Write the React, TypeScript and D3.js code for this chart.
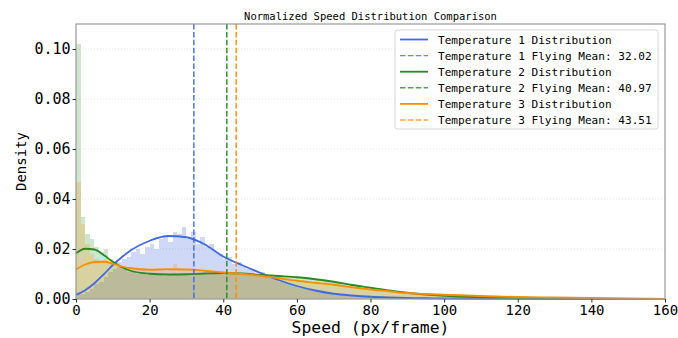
import * as d3 from 'd3';
import React, { useEffect, useRef } from 'react';

// histogram bins are 1.25 px/frame wide, starting at 0
const binWidth = 1.25;

const hist1 = [
  0.003, 0.002, 0.003, 0.004, 0.006, 0.007,
  0.009, 0.011, 0.012, 0.015, 0.016, 0.017,
  0.019, 0.020, 0.018, 0.021, 0.022, 0.020,
  0.024, 0.025, 0.023, 0.027, 0.026, 0.029,
  0.024, 0.027, 0.022, 0.025, 0.021, 0.022,
  0.019, 0.018, 0.016, 0.017, 0.014, 0.015,
  0.013, 0.012, 0.012, 0.010, 0.011, 0.009,
  0.0085, 0.008, 0.007, 0.0065, 0.006, 0.0055,
  0.005, 0.0045, 0.004, 0.0037, 0.0033, 0.003,
  0.0027, 0.0024, 0.0022, 0.002, 0.0018, 0.0016,
  0.0014, 0.0013, 0.0012, 0.0011, 0.001, 0.0009,
  0.0008, 0.0008, 0.0007, 0.0006, 0.0006, 0.0005,
  0.0005, 0.0004, 0.0004, 0.0004, 0.0003, 0.0003, 0.0003, 0.0002,
];

const hist2 = [
  0.102, 0.033, 0.026, 0.024, 0.021, 0.019,
  0.020, 0.016, 0.015, 0.013, 0.012, 0.011,
  0.011, 0.010, 0.0105, 0.0095, 0.010, 0.0098,
  0.0102, 0.0094, 0.0099, 0.0103, 0.0096, 0.010,
  0.0098, 0.0104, 0.0101, 0.0097, 0.0106, 0.0102,
  0.0108, 0.0103, 0.0099, 0.0107, 0.0101, 0.0104,
  0.0100, 0.0097, 0.0102, 0.0095, 0.0098, 0.0093,
  0.0094, 0.0090, 0.0092, 0.0087, 0.0089, 0.0085,
  0.0086, 0.0083, 0.0081, 0.0079, 0.0077, 0.0074,
  0.0072, 0.0070, 0.0066, 0.0063, 0.0059, 0.0056,
  0.0052, 0.0050, 0.0046, 0.0043, 0.0049, 0.0038,
  0.0035, 0.0032, 0.0029, 0.0027, 0.0024, 0.0022,
  0.0021, 0.0026, 0.0018, 0.0016, 0.0015, 0.0013, 0.0012, 0.0011,
  0.0010, 0.0009, 0.0009, 0.0008, 0.0008, 0.0007, 0.0007, 0.0006,
  0.0006, 0.0005, 0.0005, 0.0005, 0.0004, 0.0004, 0.0004, 0.0003,
];

const hist3 = [
  0.047, 0.030, 0.022, 0.018, 0.016, 0.015,
  0.016, 0.014, 0.014, 0.013, 0.013, 0.012,
  0.012, 0.0118, 0.0125, 0.0112, 0.0119, 0.0115,
  0.0121, 0.0113, 0.0117, 0.0142, 0.0116, 0.0119,
  0.0118, 0.0112, 0.0115, 0.0110, 0.0114, 0.0109,
  0.0111, 0.0106, 0.0108, 0.0103, 0.0105, 0.0100,
  0.0101, 0.0097, 0.0099, 0.0094, 0.0095, 0.0091,
  0.0088, 0.0085, 0.0083, 0.0079, 0.0077, 0.0074,
  0.0072, 0.0070, 0.0067, 0.0065, 0.0063, 0.0061,
  0.0075, 0.0057, 0.0055, 0.0052, 0.0050, 0.0048,
  0.0046, 0.0044, 0.0042, 0.0040, 0.0038, 0.0036,
  0.0034, 0.0032, 0.0031, 0.0029, 0.0027, 0.0026,
  0.0025, 0.0023, 0.0022, 0.0021, 0.0020, 0.0019, 0.0018, 0.0017,
  0.0016, 0.0015, 0.0015, 0.0014, 0.0013, 0.0013, 0.0012, 0.0012,
  0.0011, 0.0011, 0.0010, 0.0010, 0.0009, 0.0009, 0.0009, 0.0008,
];

// KDE curves sampled at these speeds
const kdeX = [0, 2.5, 5, 7.5, 10, 12.5, 15, 20, 25, 30, 35, 40, 45, 50, 55, 60, 65, 70, 75, 80, 85, 90, 95, 100, 110, 120, 130, 140, 150, 160];
const kde1 = [0.0016, 0.0035, 0.0063, 0.0098, 0.0136, 0.0168, 0.0196, 0.0233, 0.0252, 0.0247, 0.0218, 0.0170, 0.0136, 0.0105, 0.0076, 0.0052, 0.0034, 0.0021, 0.0014, 0.0009, 0.0006, 0.0004, 0.0003, 0.0002, 0.0001, 0.00005, 0, 0, 0, 0];
const kde2 = [0.0183, 0.0201, 0.0198, 0.0176, 0.0149, 0.0127, 0.0112, 0.0101, 0.0098, 0.0099, 0.0102, 0.0104, 0.0102, 0.0097, 0.0092, 0.0087, 0.0079, 0.0069, 0.0056, 0.0045, 0.0034, 0.0025, 0.0018, 0.0013, 0.0007, 0.0003, 0.0001, 0.00005, 0, 0];
const kde3 = [0.0118, 0.0138, 0.0148, 0.0149, 0.0141, 0.0130, 0.0123, 0.0117, 0.0119, 0.0118, 0.0113, 0.0106, 0.0100, 0.0093, 0.0083, 0.0073, 0.0065, 0.0057, 0.0047, 0.0038, 0.0031, 0.0024, 0.0020, 0.0017, 0.0012, 0.0008, 0.0006, 0.0004, 0.0002, 0];

const names = ['Temperature 1', 'Temperature 2', 'Temperature 3'];
const means = [32.02, 40.97, 43.51];
const colors = ['#4169E1', '#228B22', '#FF8C00'];

const xTicks = [0, 20, 40, 60, 80, 100, 120, 140, 160];
const yTicks = [0, 0.02, 0.04, 0.06, 0.08, 0.1];

const mono = '"DejaVu Sans Mono", monospace';

export default function App() {
  const svgRef = useRef(null);
  const width = 678;
  const height = 338;

  useEffect(() => {
    const svg = d3.select(svgRef.current);
    svg.selectAll('*').remove();

    const m = { top: 24, right: 13, bottom: 39, left: 76 };
    const pw = width - m.left - m.right;
    const ph = height - m.top - m.bottom;

    const x = d3.scaleLinear().domain([0, 160]).range([0, pw]);
    const y = d3.scaleLinear().domain([0, 0.11]).range([ph, 0]);

    svg.append('rect').attr('width', width).attr('height', height).attr('fill', 'white');

    const g = svg.append('g').attr('transform', `translate(${m.left},${m.top})`);

    // grid
    g.selectAll('.grid')
      .data(yTicks.slice(1))
      .enter()
      .append('line')
      .attr('x1', 0)
      .attr('x2', pw)
      .attr('y1', (d) => y(d))
      .attr('y2', (d) => y(d))
      .attr('stroke', '#ddd')
      .attr('stroke-width', 0.8)
      .attr('stroke-dasharray', '1,2');

    const hists = [hist1, hist2, hist3];
    const kdes = [kde1, kde2, kde3];
    const line = d3
      .line<number>()
      .x((_, i) => x(kdeX[i]))
      .y((d) => y(d))
      .curve(d3.curveMonotoneX);

    // histograms first, then the curves and the mean lines on top
    hists.forEach((h, s) => {
      g.append('g')
        .selectAll('rect')
        .data(h)
        .enter()
        .append('rect')
        .attr('x', (_, i) => x(i * binWidth))
        .attr('width', x(binWidth) - x(0))
        .attr('y', (d) => y(d))
        .attr('height', (d) => y(0) - y(d))
        .attr('fill', colors[s])
        .attr('fill-opacity', s === 0 ? 0.25 : 0.22)
        .attr('shape-rendering', 'crispEdges');
    });

    kdes.forEach((k, s) => {
      g.append('path')
        .attr('d', line(k))
        .attr('fill', 'none')
        .attr('stroke', colors[s])
        .attr('stroke-width', 1.8);
    });

    means.forEach((mv, s) => {
      g.append('line')
        .attr('x1', x(mv))
        .attr('x2', x(mv))
        .attr('y1', 0)
        .attr('y2', ph)
        .attr('stroke', colors[s])
        .attr('stroke-width', 1.4)
        .attr('stroke-dasharray', '5.5,2.4');
    });

    // spines
    g.append('rect')
      .attr('width', pw)
      .attr('height', ph)
      .attr('fill', 'none')
      .attr('stroke', '#999')
      .attr('stroke-width', 1.2);

    // x axis
    const xAxis = d3.axisBottom(x).tickValues(xTicks).tickSize(3.5).tickPadding(3).tickFormat(d3.format('d'));
    const xg = g.append('g').attr('transform', `translate(0,${ph})`).call(xAxis);
    xg.select('.domain').remove();
    xg.selectAll('text').style('font-family', mono).style('font-size', '14px').attr('fill', '#000');
    xg.selectAll('line').attr('stroke', '#333');

    const yAxis = d3.axisLeft(y).tickValues(yTicks).tickSize(3.5).tickPadding(2).tickFormat(d3.format('.2f'));
    const yg = g.append('g').call(yAxis);
    yg.select('.domain').remove();
    yg.selectAll('text').style('font-family', mono).style('font-size', '15px').attr('fill', '#000');
    yg.selectAll('line').attr('stroke', '#333');

    // labels
    svg.append('text')
      .attr('x', m.left + pw / 2)
      .attr('y', 20)
      .attr('text-anchor', 'middle')
      .style('font-family', mono)
      .style('font-size', '10.5px')
      .text('Normalized Speed Distribution Comparison');

    svg.append('text')
      .attr('x', m.left + pw / 2)
      .attr('y', 333)
      .attr('text-anchor', 'middle')
      .style('font-family', mono)
      .style('font-size', '16.4px')
      .text('Speed (px/frame)');

    svg.append('text')
      .attr('transform', `translate(26,${m.top + ph / 2}) rotate(-90)`)
      .attr('text-anchor', 'middle')
      .style('font-family', mono)
      .style('font-size', '14px')
      .text('Density');

    // legend
    const entries = [];
    names.forEach((n, s) => {
      entries.push({ label: `${n} Distribution`, color: colors[s], dashed: false });
      entries.push({ label: `${n} Flying Mean: ${means[s].toFixed(2)}`, color: colors[s], dashed: true });
    });
    const lg = svg.append('g').attr('transform', 'translate(395,30)');
    lg.append('rect')
      .attr('width', 263)
      .attr('height', 99)
      .attr('rx', 2.5)
      .attr('fill', 'white')
      .attr('fill-opacity', 0.8)
      .attr('stroke', '#ccc')
      .attr('stroke-width', 0.8);
    entries.forEach((e, i) => {
      const yy = 9.5 + i * 16.1;
      lg.append('line')
        .attr('x1', 5)
        .attr('x2', 33)
        .attr('y1', yy)
        .attr('y2', yy)
        .attr('stroke', e.color)
        .attr('stroke-opacity', e.dashed ? 0.8 : 1)
        .attr('stroke-width', e.dashed ? 1.4 : 1.8)
        .attr('stroke-dasharray', e.dashed ? '5.5,2.4' : null);
      lg.append('text')
        .attr('x', 43)
        .attr('y', yy + 4)
        .style('font-family', mono)
        .style('font-size', '11.1px')
        .text(e.label);
    });
  }, []);

  return (
    <svg ref={svgRef} width={width} height={height} style={{ position: 'absolute', left: 0, top: 0 }}>
      <g className="chart"></g>
    </svg>
  );
}
